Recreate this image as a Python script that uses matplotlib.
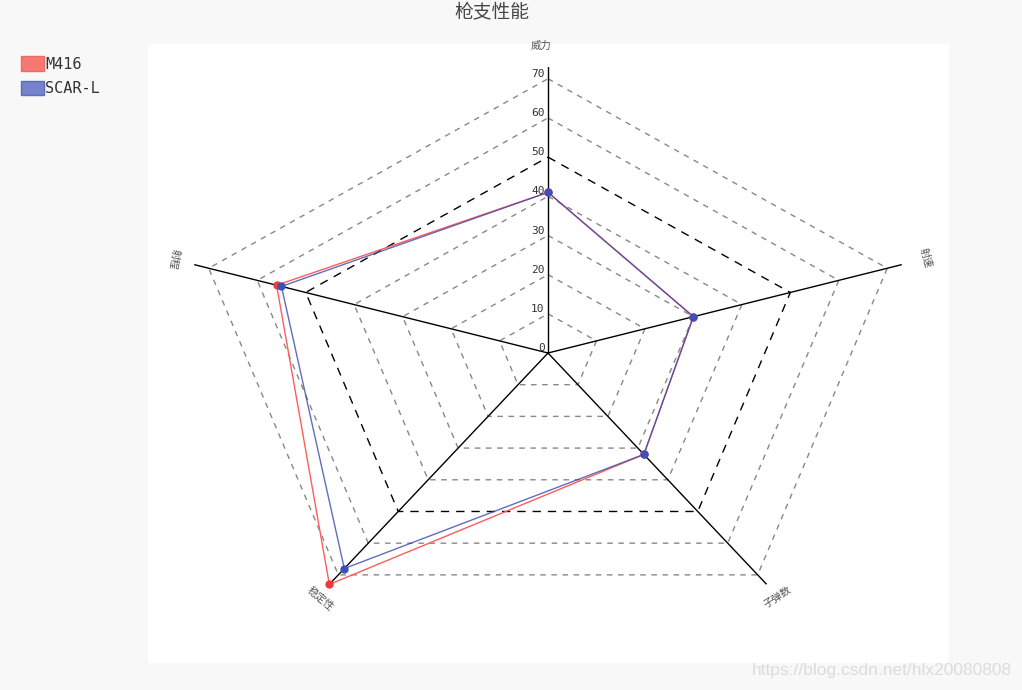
import numpy as np
import matplotlib
matplotlib.use("Agg")
import matplotlib.pyplot as plt
from matplotlib.patches import Rectangle, Patch

plt.rcParams['font.family'] = ['Noto Sans CJK SC', 'DejaVu Sans']

# 数据
indicators = ['威力', '射速', '子弹数', '稳定性', '射程']
m416 = [41, 30, 32, 73, 56]
scar_l = [41, 30, 32, 68, 55]
levels = [10, 20, 30, 40, 50, 60, 70]
tick_labels = ['0', '10', '20', '30', '40', '50', '60', '70']
series_names = ['M416', 'SCAR-L']

RMAX = max(max(m416), max(scar_l))

fig = plt.figure(figsize=(10.22, 6.90), dpi=100)
fig.patch.set_facecolor('#f8f8f8')
# 白色绘图区
fig.patches.append(Rectangle((148 / 1022, 1 - 663 / 690), 801 / 1022, 619 / 690,
                             transform=fig.transFigure, facecolor='white',
                             edgecolor='none', zorder=-5))

# 极坐标轴, 水平方向拉伸成椭圆
ax = fig.add_axes([176 / 1022, 51 / 690, 744 / 1022, 572 / 690], projection='polar')
ax.set_aspect('auto')
ax.set_facecolor('none')
ax.set_theta_offset(np.pi / 2)
ax.set_theta_direction(-1)
ax.set_ylim(0, RMAX)
ax.grid(False)
ax.set_xticks([])
ax.set_yticks([])
for s in ax.spines.values():
    s.set_visible(False)

n = len(indicators)
theta = np.linspace(0, 2 * np.pi, n, endpoint=False)
theta_c = np.append(theta, theta[0])

# 网格
for lv in levels:
    if lv == 50:
        ax.plot(theta_c, [lv] * (n + 1), color='black', lw=1, dashes=(6, 5), zorder=1)
    else:
        ax.plot(theta_c, [lv] * (n + 1), color='#888888', lw=1, dashes=(4, 4), zorder=1)

# 轴线
for t in theta:
    ax.plot([t, t], [0, RMAX], color='black', lw=1, zorder=2)

# 刻度标签
for i, lab in enumerate(tick_labels):
    ax.annotate(lab, xy=(0, i * 10), xytext=(-2.5, 3.5), textcoords='offset points',
                ha='right', va='center', fontsize=8, color='#333333',
                family='DejaVu Sans Mono', zorder=5)

# 指标名称
name_offsets = [(-5, 15), (17, 5), (8, -9), (-6.5, -10), (-14.5, 4)]
name_rot = [0, -74, 32, -40, -100]
for t, name, off, rot in zip(theta, indicators, name_offsets, name_rot):
    ax.annotate(name, xy=(t, RMAX), xytext=off, textcoords='offset points',
                ha='center', va='center', fontsize=7.5, color='#555555',
                rotation=rot, annotation_clip=False)

# 数据系列
ax.plot(theta_c, m416 + m416[:1], color='#ff5c5c', lw=1, zorder=3, clip_on=False)
ax.plot(theta, m416, 'o', color='#f03a3a', ms=5, zorder=4, clip_on=False)
ax.plot(theta_c, scar_l + scar_l[:1], color='#3949ab', alpha=0.8, lw=1, zorder=3,
        clip_on=False)
ax.plot(theta, scar_l, 'o', color='#3f51b5', ms=5, zorder=4, clip_on=False)

# 标题
fig.text(492 / 1022, 1 - 13 / 690, '枪支性能', ha='center', va='center',
         fontsize=13.5, color='#464646')

# 图例
handles = [Patch(facecolor='#f77a72', edgecolor='#ef6a62'),
           Patch(facecolor='#7682cc', edgecolor='#5d6bc0')]
leg = fig.legend(handles, series_names, loc='upper left',
                 bbox_to_anchor=(21 / 1022, 1 - 56 / 690), frameon=False,
                 borderaxespad=0, borderpad=0, handlelength=1.5, handleheight=1.1,
                 handletextpad=0.1, labelspacing=0.6,
                 prop={'family': 'DejaVu Sans Mono', 'size': 11})
for txt in leg.get_texts():
    txt.set_color('#333333')

# 水印
fig.text(1012 / 1022, 1 - 670 / 690, 'https://blog.csdn.net/hlx20080808', ha='right',
         va='center', fontsize=12.5, color='#dcdcdc', family='Liberation Sans')

fig.savefig('out.png', dpi=100, facecolor=fig.get_facecolor())
